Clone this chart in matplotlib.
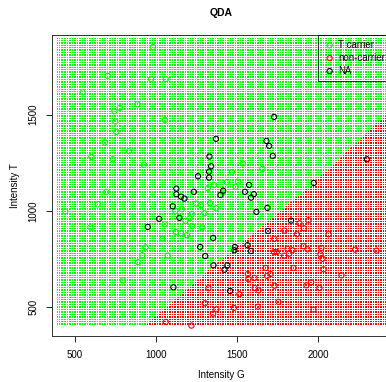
import matplotlib.pyplot as plt
import numpy as np

plt.rcParams['font.family'] = ['Liberation Sans', 'DejaVu Sans']

# observed points (Intensity G, Intensity T)
carrier_g = [981, 702, 969, 1060, 548, 885, 776, 743, 749, 1054, 755, 685, 833, 601, 733, 926,
             1535, 1469, 1656, 1436, 1506, 1358, 693, 642, 440, 595, 1319, 1247, 1278, 1333, 1372,
             1159, 1119, 1220, 1298, 1206, 1181, 1054, 1224, 1286, 1122, 1153, 1190, 1039, 936,
             915, 1072, 889, 796, 1412, 1492]
carrier_t = [1851, 1701, 1685, 1684, 1616, 1554, 1535, 1517, 1464, 1472, 1410, 1355, 1310, 1280,
             1268, 1239, 1246, 1202, 1218, 1149, 1152, 1135, 1099, 1035, 998, 915, 1118, 1038, 1030,
             1040, 1014, 1009, 1000, 984, 988, 962, 948, 931, 922, 915, 891, 884, 874, 856, 811,
             770, 768, 734, 640, 1095, 1125]

noncarrier_g = [1323, 1301, 1372, 1352, 1060, 1218, 1940, 1885, 1912, 1792, 1869, 2064, 1730,
                1909, 1934, 2020, 2228, 2360, 1811, 1841, 1728, 1745, 1821, 1790, 2014, 2027, 1848,
                1677, 2033, 1566, 1706, 1685, 1570, 1607, 2144, 1957, 1928, 1730, 2008, 1609, 1632,
                1514, 1755, 1628, 1480, 1971]
noncarrier_t = [599, 521, 490, 467, 424, 405, 952, 936, 910, 898, 879, 879, 855, 817, 801, 808,
                799, 794, 803, 796, 786, 787, 778, 768, 775, 752, 704, 704, 697, 673, 673, 663, 646,
                652, 666, 630, 614, 612, 600, 600, 588, 568, 528, 503, 497, 488]

na_g = [1370, 1329, 1340, 1327, 1327, 1259, 1728, 1681, 1698, 1720, 2301, 1973, 1574, 1125, 1125,
        1154, 1175, 1233, 1103, 1144, 1019, 949, 1352, 1272, 1303, 1354, 1107, 1414, 1397, 1548,
        1603, 1586, 1619, 1687, 1833, 1691, 1486, 1483, 1564, 1586, 1440, 1422, 1457]
na_t = [1374, 1282, 1232, 1204, 1173, 1180, 1488, 1363, 1337, 1285, 1268, 1145, 1135, 1116, 1087,
        1074, 1064, 1099, 1024, 964, 959, 917, 860, 813, 766, 718, 604, 1105, 1083, 1099, 1087,
        1069, 995, 1016, 950, 896, 813, 796, 822, 792, 718, 695, 585]

# QDA decision boundary as read from the shaded regions
boundary_g = [300, 932, 1389, 1963, 2414, 2600]
boundary_t = [-55, 404, 736, 1135, 1497, 1640]

# prediction grid range
grid_g = np.linspace(390, 2430, 200)
grid_t = np.linspace(407, 1890, 170)

fig = plt.figure(figsize=(3.86, 3.82), dpi=100)
ax = fig.add_axes([0.1347, 0.1204, 0.876, 0.788])

gg, tt = np.meshgrid(grid_g, grid_t)
gg = gg.ravel()
tt = tt.ravel()
is_red = tt < np.interp(gg, boundary_g, boundary_t)
ax.plot(gg[~is_red], tt[~is_red], ',', color='#00ff00', zorder=1)
ax.plot(gg[is_red], tt[is_red], ',', color='#ff0000', zorder=1)

kw = dict(s=14, facecolors='none', linewidths=0.8, zorder=3)
h1 = ax.scatter(carrier_g, carrier_t, edgecolors='#00ff00', **kw)
h2 = ax.scatter(noncarrier_g, noncarrier_t, edgecolors='#ff0000', **kw)
h3 = ax.scatter(na_g, na_t, edgecolors='black', **kw)

ax.set_xlim(358, 2444)
ax.set_ylim(351, 1913)
ax.set_xticks([500, 1000, 1500, 2000])
ax.set_yticks([500, 1000, 1500])
ax.tick_params(labelsize=7, length=4, width=0.6, pad=6)
for lab in ax.get_yticklabels():
    lab.set_rotation(90)
    lab.set_va('center')
for sp in ax.spines.values():
    sp.set_linewidth(0.7)
    sp.set_color('#333333')

ax.set_xlabel('Intensity G', fontsize=7, labelpad=7)
ax.set_ylabel('Intensity T', fontsize=7, labelpad=6)
ax.set_title('QDA', fontsize=7.5, fontweight='bold', pad=14)

leg = ax.legend([h1, h2, h3], ['T carrier', 'non-carrier', 'NA'], loc='upper right',
                fontsize=7, frameon=True, fancybox=False, borderaxespad=0,
                handletextpad=0.2, labelspacing=0.3, borderpad=0.5, handlelength=1.4)
leg.get_frame().set_facecolor('none')
leg.get_frame().set_edgecolor('black')
leg.get_frame().set_linewidth(0.7)

fig.savefig('out.png', dpi=100)
